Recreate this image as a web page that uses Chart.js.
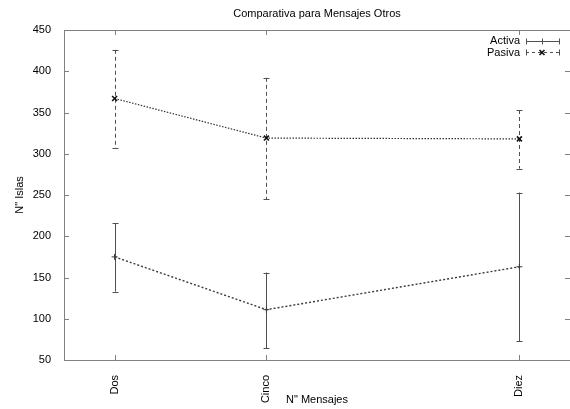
<!DOCTYPE html>
<html>
<head>
<meta charset="utf-8">
<script src="https://cdn.jsdelivr.net/npm/chart.js@4/dist/chart.umd.min.js"></script>
<style>
  html, body { margin: 0; padding: 0; background: #fff; }
  #wrap { width: 570px; height: 409px; }
</style>
</head>
<body>
<div id="wrap"><canvas id="chart"></canvas></div>
<script>
(function () {
  "use strict";

  // ── Data ───────────────────────────────────
  const categories = ["Dos", "Cinco", "Diez"];
  const xValues    = [2, 5, 10];
  const activaMean = [175, 111, 163];
  const activaLow  = [133, 64, 73];
  const activaHigh = [216, 156, 253];
  const pasivaMean = [367, 319, 318];
  const pasivaLow  = [307, 245, 282];
  const pasivaHigh = [426, 392, 353];
  const yTicks     = [50, 100, 150, 200, 250, 300, 350, 400, 450];

  const FONT = "'Liberation Sans', Arial, sans-serif";
  const AXIS_COLOR = "#808080";
  const BAR_COLOR  = "#505050";

  const toPoints = (ys) => xValues.map((x, i) => ({ x, y: ys[i] }));

  // ── Error bars, frame, inner ticks, legend, title ──
  const gnuplotLook = {
    id: "gnuplotLook",
    beforeDatasetsDraw(chart) {
      const { ctx, scales: { x, y } } = chart;
      const drawBars = (low, high, dash) => {
        ctx.save();
        ctx.strokeStyle = BAR_COLOR;
        ctx.lineWidth = 1;
        ctx.setLineDash(dash);
        xValues.forEach((v, i) => {
          const px = Math.round(x.getPixelForValue(v)) + 0.5;
          const top = y.getPixelForValue(high[i]);
          const bot = y.getPixelForValue(low[i]);
          ctx.beginPath();
          ctx.moveTo(px, top);
          ctx.lineTo(px, bot);
          ctx.stroke();
          ctx.setLineDash([]);
          ctx.beginPath();
          ctx.moveTo(px - 3, Math.round(top) + 0.5);
          ctx.lineTo(px + 3, Math.round(top) + 0.5);
          ctx.moveTo(px - 3, Math.round(bot) + 0.5);
          ctx.lineTo(px + 3, Math.round(bot) + 0.5);
          ctx.stroke();
          ctx.setLineDash(dash);
        });
        ctx.restore();
      };
      drawBars(activaLow, activaHigh, []);
      drawBars(pasivaLow, pasivaHigh, [4, 3]);
    },
    afterDraw(chart) {
      const { ctx, chartArea: a, scales: { x, y } } = chart;
      ctx.save();
      ctx.strokeStyle = AXIS_COLOR;
      ctx.lineWidth = 1;
      ctx.beginPath();
      ctx.rect(Math.round(a.left) + 0.5, Math.round(a.top) + 0.5,
               Math.round(a.right - a.left), Math.round(a.bottom - a.top));
      ctx.stroke();

      // inner ticks (mirrored)
      ctx.beginPath();
      yTicks.forEach((v) => {
        const py = Math.round(y.getPixelForValue(v)) + 0.5;
        ctx.moveTo(a.left, py); ctx.lineTo(a.left + 5, py);
        ctx.moveTo(a.right - 5, py); ctx.lineTo(a.right, py);
      });
      xValues.forEach((v) => {
        const px = Math.round(x.getPixelForValue(v)) + 0.5;
        ctx.moveTo(px, a.bottom); ctx.lineTo(px, a.bottom - 5);
        ctx.moveTo(px, a.top); ctx.lineTo(px, a.top + 5);
      });
      ctx.stroke();

      // title
      ctx.fillStyle = "#000";
      ctx.font = "11px " + FONT;
      ctx.textAlign = "center";
      ctx.textBaseline = "middle";
      ctx.fillText("Comparativa para Mensajes Otros", (a.left + a.right) / 2, 14);

      // legend
      const lx0 = 526, lx1 = 559, lxm = 542;
      ctx.textAlign = "right";
      ctx.fillText("Activa", 520, 41);
      ctx.fillText("Pasiva", 520, 53);

      ctx.strokeStyle = BAR_COLOR;
      ctx.beginPath();
      ctx.moveTo(lx0, 41.5); ctx.lineTo(lx1, 41.5);
      [lx0, lxm, lx1].forEach((px) => { ctx.moveTo(px + 0.5, 38.5); ctx.lineTo(px + 0.5, 44.5); });
      ctx.stroke();

      ctx.setLineDash([3, 3]);
      ctx.beginPath();
      ctx.moveTo(lx0, 52.5); ctx.lineTo(lx1, 52.5);
      ctx.stroke();
      ctx.setLineDash([]);
      ctx.beginPath();
      [lx0, lx1].forEach((px) => { ctx.moveTo(px + 0.5, 49.5); ctx.lineTo(px + 0.5, 55.5); });
      ctx.stroke();
      ctx.strokeStyle = "#111";
      ctx.lineWidth = 1.6;
      ctx.beginPath();
      ctx.moveTo(lxm - 2.5, 50); ctx.lineTo(lxm + 2.5, 55);
      ctx.moveTo(lxm + 2.5, 50); ctx.lineTo(lxm - 2.5, 55);
      ctx.stroke();
      ctx.restore();
    }
  };

  new Chart(document.getElementById("chart"), {
    type: "line",
    data: {
      datasets: [
        {
          label: "Activa",
          data: toPoints(activaMean),
          borderColor: "#3a3a3a",
          borderWidth: 1.4,
          borderDash: [2, 2],
          pointStyle: "cross",
          pointRadius: 3,
          pointBorderColor: "#3a3a3a",
          pointBorderWidth: 1,
          fill: false,
          tension: 0
        },
        {
          label: "Pasiva",
          data: toPoints(pasivaMean),
          borderColor: "#333",
          borderWidth: 1.2,
          borderDash: [1.5, 1.5],
          pointStyle: "crossRot",
          pointRadius: 3.5,
          pointBorderColor: "#111",
          pointBorderWidth: 1.6,
          fill: false,
          tension: 0
        }
      ]
    },
    options: {
      responsive: true,
      maintainAspectRatio: false,
      animation: false,
      layout: { autoPadding: false, padding: { top: 30, right: 0, left: 0, bottom: 0 } },
      plugins: {
        legend: { display: false },
        title: { display: false },
        tooltip: { enabled: false }
      },
      scales: {
        x: {
          type: "linear",
          min: 1,
          max: 11,
          afterBuildTicks: (s) => { s.ticks = xValues.map((v) => ({ value: v })); },
          afterFit: (s) => {
            s.height = 49;
            s.paddingLeft = 0;
            s.paddingRight = 0;
          },
          grid: { display: false },
          border: { display: false },
          ticks: {
            autoSkip: false,
            minRotation: 90,
            maxRotation: 90,
            padding: 7,
            color: "#000",
            font: { family: FONT, size: 11 },
            callback: (v) => categories[xValues.indexOf(v)] || ""
          },
          title: {
            display: true,
            text: "N\" Mensajes",
            color: "#000",
            font: { family: FONT, size: 11 },
            padding: { top: 0, bottom: 2 }
          }
        },
        y: {
          min: 50,
          max: 450,
          afterBuildTicks: (s) => { s.ticks = yTicks.map((v) => ({ value: v })); },
          afterFit: (s) => {
            s.width = 64;
            s.paddingTop = 0;
            s.paddingBottom = 0;
          },
          grid: { display: false },
          border: { display: false },
          ticks: {
            padding: 5,
            color: "#000",
            font: { family: FONT, size: 11 }
          },
          title: {
            display: true,
            text: "N\" Islas",
            color: "#000",
            font: { family: FONT, size: 11 },
            padding: { top: 13, bottom: 0 }
          }
        }
      }
    },
    plugins: [gnuplotLook]
  });
})();
</script>
</body>
</html>
